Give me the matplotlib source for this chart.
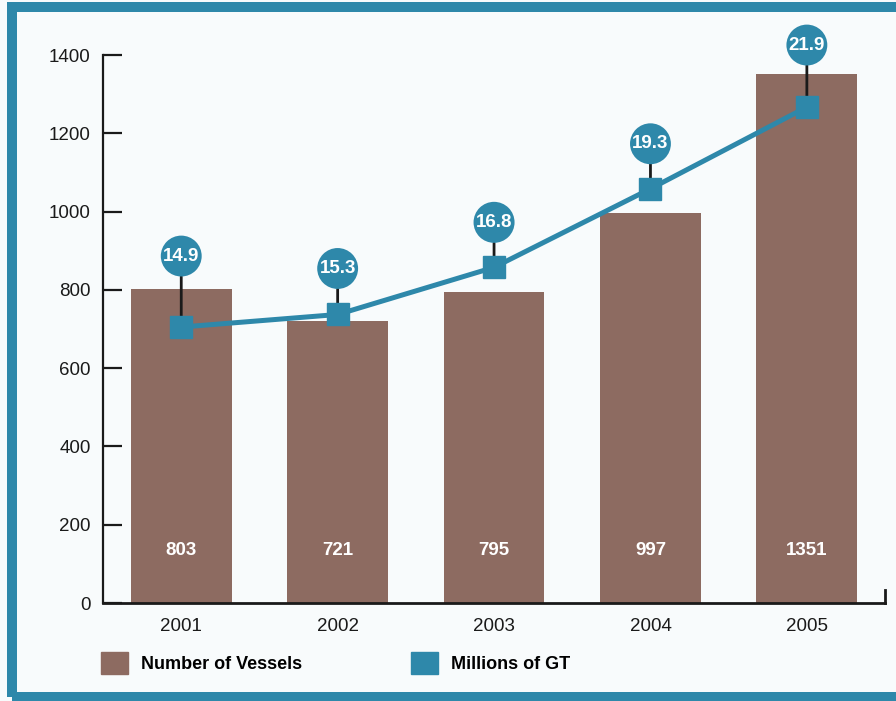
import matplotlib
matplotlib.use("Agg")
import matplotlib.pyplot as plt
from matplotlib.patches import Rectangle, Patch
import matplotlib.transforms as mtransforms

years = ["2001", "2002", "2003", "2004", "2005"]
vessels = [803, 721, 795, 997, 1351]
gt = [14.9, 15.3, 16.8, 19.3, 21.9]
yticks = [0, 200, 400, 600, 800, 1000, 1200, 1400]

brown = "#8D6B61"
teal = "#2E88AA"
plt.rcParams['font.family'] = ['Liberation Sans', 'DejaVu Sans']

fig = plt.figure(figsize=(8.96, 7.01), dpi=100, facecolor="#F8FBFC")
ax = fig.add_axes([0.115, 0.1398, 0.8728, 0.7817])
ax.set_facecolor("none")

x = list(range(len(years)))
ax.bar(x, vessels, width=0.645, color=brown, zorder=2)
ax.set_xlim(-0.5, 4.5)
ax.set_ylim(0, 1400)
ax.set_yticks(yticks)
ax.set_xticks(x)
ax.set_xticklabels(years)

ax.spines['top'].set_visible(False)
for s in ['left', 'bottom', 'right']:
    ax.spines[s].set_color('#1a1a1a')
ax.spines['left'].set_linewidth(1.6)
ax.spines['bottom'].set_linewidth(2.0)
ax.spines['right'].set_linewidth(2.0)
ax.spines['right'].set_bounds(0, 33)
ax.tick_params(axis='y', direction='in', length=14, width=1.6, labelsize=13.5,
               pad=9, colors='#1a1a1a', right=False)
ax.tick_params(axis='x', length=0, labelsize=13.5, pad=11, colors='#1a1a1a')

trans = mtransforms.blended_transform_factory(ax.transData, ax.transAxes)
for xi, v in zip(x, vessels):
    ax.text(xi, 0.095, str(v), transform=trans, ha='center', va='center',
            color='white', fontweight='bold', fontsize=13.5, zorder=3)

ax2 = ax.twinx()
ax2.set_ylim(6.12, 23.555)
ax2.set_axis_off()
ax2.plot(x, gt, color=teal, lw=3.6, marker='s', ms=16, zorder=5, clip_on=False)

offsets = [71, 46, 45, 45, 62]
for xi, v, off in zip(x, gt, offsets):
    ax2.annotate(f"{v:.1f}", xy=(xi, v), xytext=(0, off), textcoords='offset pixels',
                 ha='center', va='center', color='white', fontweight='bold', fontsize=13.5,
                 bbox=dict(boxstyle='circle,pad=0.12', fc=teal, ec='none'),
                 arrowprops=dict(arrowstyle='-', color='#1a1a1a', lw=2, shrinkA=0, shrinkB=0),
                 zorder=4, annotation_clip=False)

handles = [Patch(color=brown, label='Number of Vessels'), Patch(color=teal, label='Millions of GT')]
fig.legend(handles=handles, loc='center left', bbox_to_anchor=(101 / 896, 1 - 663 / 701),
           ncol=2, frameon=False, handlelength=1.5, handleheight=1.5, handletextpad=0.72,
           columnspacing=6.0, borderpad=0, borderaxespad=0,
           prop=dict(weight='bold', size=13))

fig.patches.append(Rectangle((12 / 896, 4 / 701), 1.2, 690 / 701, transform=fig.transFigure,
                             fill=False, ec=teal, lw=7.2, zorder=0))

fig.savefig("out.png", dpi=100, facecolor=fig.get_facecolor())
